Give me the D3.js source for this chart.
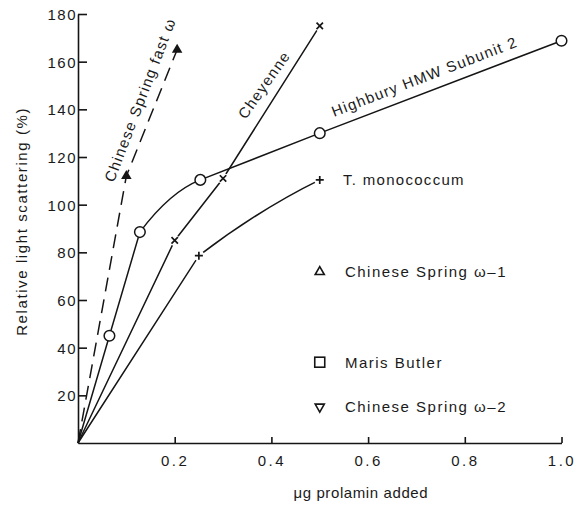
<!DOCTYPE html>
<html>
<head>
<meta charset="utf-8">
<script src="https://cdn.jsdelivr.net/npm/d3@7/dist/d3.min.js"></script>
<style>
  html, body { margin: 0; padding: 0; background: #ffffff; }
  svg { display: block; }
  text { font-family: "Liberation Sans", Arial, Helvetica, sans-serif; fill: #1a1a1a; }
</style>
</head>
<body>
<svg id="chart" width="581" height="505"></svg>
<script>
// ---- data ----
const xTicks = [0.2, 0.4, 0.6, 0.8, 1.0];
const yTicks = [20, 40, 60, 80, 100, 120, 140, 160, 180];

const fastOmegaX = [0, 0.1, 0.205];
const fastOmegaY = [0, 112, 165];

const highburyX = [0, 0.065, 0.128, 0.253, 0.5, 1.0];
const highburyY = [0, 45, 88.5, 110.4, 130, 168.8];

const cheyenneX = [0, 0.2, 0.3, 0.5];
const cheyenneY = [0, 85, 111, 175];

const monococcumX = [0, 0.25, 0.5];
const monococcumY = [0, 78.6, 110.4];

const legendNames = ["Chinese Spring \u03C9\u20131", "Maris Butler", "Chinese Spring \u03C9\u20132"];
const legendSymbols = ["triangleUp", "square", "triangleDown"];
const legendY = [71.8, 33.9, 15.2];

// ---- layout ----
const svg = d3.select("#chart");
const ink = "#151515";
const x = d3.scaleLinear().domain([0, 1]).range([78, 561.5]);
const y = d3.scaleLinear().domain([0, 180]).range([443, 14]);
const font = '"Liberation Sans", Arial, sans-serif';

// axes
const yAxis = d3.axisLeft(y).tickValues(yTicks).tickSizeInner(-9).tickSizeOuter(0).tickPadding(1)
  .tickFormat(d3.format("d"));
const gy = svg.append("g").attr("transform", `translate(${x(0)},0)`).call(yAxis);
gy.select(".domain").attr("stroke", ink).attr("stroke-width", 1.6);
gy.selectAll(".tick line").attr("stroke", ink).attr("stroke-width", 1.6);
gy.selectAll(".tick text").attr("font-size", 15).attr("letter-spacing", 1.5)
  .attr("fill", ink).attr("dy", "0.36em").style("font-family", font);

const xAxis = d3.axisBottom(x).tickValues(xTicks).tickSizeInner(-6).tickSizeOuter(0).tickPadding(12)
  .tickFormat(d3.format(".1f"));
const gx = svg.append("g").attr("transform", `translate(0,${y(0)})`).call(xAxis);
gx.select(".domain").attr("stroke", ink).attr("stroke-width", 1.6);
gx.selectAll(".tick line").attr("stroke", ink).attr("stroke-width", 1.6);
gx.selectAll(".tick text").attr("font-size", 15).attr("letter-spacing", 2.5)
  .attr("fill", ink).style("font-family", font);

// axis titles
svg.append("text").attr("x", x(0.585)).attr("y", 498)
  .attr("text-anchor", "middle").attr("font-size", 15).attr("letter-spacing", 0.6)
  .text("\u03BCg prolamin added");
svg.append("text").attr("transform", `translate(27,${y(93)}) rotate(-90)`)
  .attr("text-anchor", "middle").attr("font-size", 15).attr("letter-spacing", 1.6)
  .text("Relative light scattering (%)");

// helpers
const pts = (xs, ys) => xs.map((v, i) => [v, ys[i]]);
const lineLin = d3.line().x(d => x(d[0])).y(d => y(d[1]));

// polyline with one bent (quadratic) segment from point b to b+1;
// the bend's control point lies on the given tangent slope (data units) at one end
function bentPath(p, b, slope, atEnd) {
  const ctx = d3.path();
  ctx.moveTo(x(p[0][0]), y(p[0][1]));
  for (let i = 1; i < p.length; i++) {
    if (i === b + 1) {
      const a = p[b], c = p[b + 1];
      const xm = (a[0] + c[0]) / 2;
      const ym = atEnd ? c[1] - slope * (c[0] - xm) : a[1] + slope * (xm - a[0]);
      ctx.quadraticCurveTo(x(xm), y(ym), x(c[0]), y(c[1]));
    } else {
      ctx.lineTo(x(p[i][0]), y(p[i][1]));
    }
  }
  return ctx.toString();
}

const gLines = svg.append("g").attr("fill", "none").attr("stroke", ink).attr("stroke-width", 1.5);

// Chinese Spring fast omega (dashed)
gLines.append("path").attr("d", lineLin(pts(fastOmegaX, fastOmegaY)))
  .attr("stroke-dasharray", "14,8");
// Cheyenne
gLines.append("path").attr("d", lineLin(pts(cheyenneX, cheyenneY)));
// T. monococcum: straight to first point, then bends toward the last
const mono = pts(monococcumX, monococcumY);
gLines.append("path").attr("d", bentPath(mono, 1, 155, false));
// Highbury: bend between 3rd and 4th points, joining the straight tail smoothly
const hb = pts(highburyX, highburyY);
const tailSlope = (hb[4][1] - hb[3][1]) / (hb[4][0] - hb[3][0]);
gLines.append("path").attr("d", bentPath(hb, 2, tailSlope, true));

// markers
const gM = svg.append("g");
const crossPts = pts(cheyenneX, cheyenneY).slice(1).concat(mono.slice(1));
gM.selectAll("circle.halo").data(crossPts).join("circle").attr("class", "halo")
  .attr("cx", d => x(d[0])).attr("cy", d => y(d[1])).attr("r", 5.5).attr("fill", "#fff");

// x markers (Cheyenne)
gM.selectAll("path.xm").data(pts(cheyenneX, cheyenneY).slice(1)).join("path").attr("class", "xm")
  .attr("d", d => {
    const cx = x(d[0]), cy = y(d[1]), s = 3.2;
    return `M${cx - s},${cy - s}L${cx + s},${cy + s}M${cx - s},${cy + s}L${cx + s},${cy - s}`;
  })
  .attr("stroke", ink).attr("stroke-width", 1.7).attr("fill", "none");

// + markers (T. monococcum)
gM.selectAll("path.pm").data(mono.slice(1)).join("path").attr("class", "pm")
  .attr("d", d => {
    const cx = x(d[0]), cy = y(d[1]), s = 4;
    return `M${cx - s},${cy}L${cx + s},${cy}M${cx},${cy - s}L${cx},${cy + s}`;
  })
  .attr("stroke", ink).attr("stroke-width", 1.7).attr("fill", "none");

// open circles (Highbury)
gM.selectAll("circle.hb").data(hb.slice(1)).join("circle").attr("class", "hb")
  .attr("cx", d => x(d[0])).attr("cy", d => y(d[1])).attr("r", 5.3)
  .attr("fill", "#fff").attr("stroke", ink).attr("stroke-width", 1.5);

// filled triangles (fast omega)
const tri = d3.symbol(d3.symbolTriangle, 48);
gM.selectAll("path.tr").data(pts(fastOmegaX, fastOmegaY).slice(1)).join("path").attr("class", "tr")
  .attr("transform", d => `translate(${x(d[0])},${y(d[1])})`)
  .attr("d", tri()).attr("fill", ink);

// series labels
const labels = svg.append("g").attr("font-size", 15).attr("letter-spacing", 1.3);
labels.append("text").attr("transform", `translate(${x(0.074)},${y(109.1)}) rotate(-69)`)
  .text("Chinese Spring fast \u03C9");
labels.append("text").attr("transform", `translate(${x(0.347)},${y(135.5)}) rotate(-55)`)
  .text("Cheyenne");
labels.append("text").attr("transform", `translate(${x(0.5295)},${y(136.8)}) rotate(-21)`)
  .text("Highbury HMW Subunit 2");
labels.append("text").attr("x", x(0.548)).attr("y", y(108.3)).text("T. monococcum");

// legend-like annotations
const gL = svg.append("g");
legendNames.forEach((name, i) => {
  const cx = x(0.5), cy = y(legendY[i]);
  let sym;
  if (legendSymbols[i] === "square") {
    sym = gL.append("rect").attr("x", cx - 5).attr("y", cy - 5).attr("width", 10).attr("height", 10);
  } else {
    sym = gL.append("path").attr("d", d3.symbol(d3.symbolTriangle, 36)())
      .attr("transform", `translate(${cx},${cy}) rotate(${legendSymbols[i] === "triangleDown" ? 180 : 0})`);
  }
  sym.attr("fill", "none").attr("stroke", ink).attr("stroke-width", 1.6);
  gL.append("text").attr("x", x(0.552)).attr("y", cy + 5.3)
    .attr("font-size", 15).attr("letter-spacing", 1.5).text(name);
});
</script>
</body>
</html>
